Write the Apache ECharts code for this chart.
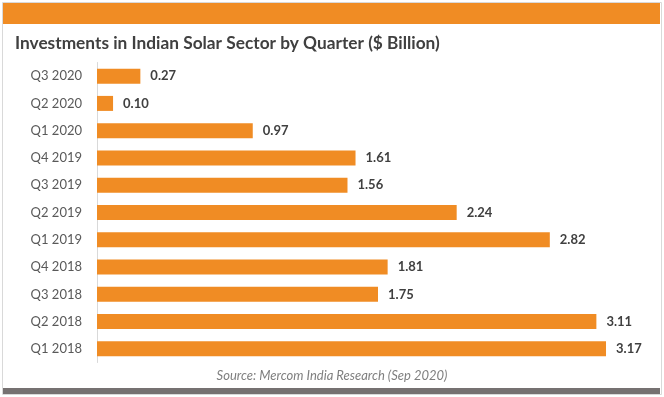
<!DOCTYPE html>
<html><head><meta charset="utf-8">
<script src="https://cdn.jsdelivr.net/npm/echarts@6/dist/echarts.min.js"></script>
<style>html,body{margin:0;padding:0;background:#fff;}#c{width:664px;height:397px;}</style>
</head><body><div id="c"></div>
<script>
const categories = ["Q1 2018","Q2 2018","Q3 2018","Q4 2018","Q1 2019","Q2 2019","Q3 2019","Q4 2019","Q1 2020","Q2 2020","Q3 2020"];
const values = [3.17,3.11,1.75,1.81,2.82,2.24,1.56,1.61,0.97,0.10,0.27];
const titleText = "Investments in Indian Solar Sector by Quarter ($ Billion)";
const sourceText = "Source: Mercom India Research (Sep 2020)";

const chart = echarts.init(document.getElementById('c'), null, {renderer:'canvas'});
chart.setOption({
  animation:false,
  backgroundColor:'#fff',
  graphic:[
    {type:'rect',shape:{x:2.5,y:2.5,width:659,height:392},style:{fill:'none',stroke:'#d9d9d9',lineWidth:1},z:-1},
    {type:'rect',shape:{x:3,y:3,width:657,height:21},style:{fill:'#F08C24'}},
    {type:'rect',shape:{x:3,y:388,width:657,height:6},style:{fill:'#767171'}},
    {type:'text',x:15,y:43,style:{text:titleText,fontFamily:'Lato',fontWeight:'bold',fontSize:17.3,fill:'#404040',align:'left',verticalAlign:'middle'}},
    {type:'text',x:332,y:376,style:{text:sourceText,fontFamily:'Lato',fontStyle:'italic',fontSize:13,fill:'#7f7f7f',align:'center',verticalAlign:'middle'}}
  ],
  grid:{left:97,top:62.5,width:562,height:300,containLabel:false},
  xAxis:{type:'value',min:0,max:3.5,show:false},
  yAxis:{type:'category',data:categories,
    axisLine:{show:true,lineStyle:{color:'#d9d9d9'}},axisTick:{show:false},
    axisLabel:{margin:15,fontFamily:'Lato',fontSize:13,color:'#595959'}},
  series:[{type:'bar',data:values,barCategoryGap:'45%',
    itemStyle:{color:'#F08C24'},
    label:{show:true,position:'right',distance:10,formatter:p=>p.value.toFixed(2),
      fontFamily:'Lato',fontWeight:'bold',fontSize:13,color:'#404040'}}]
});
</script></body></html>
